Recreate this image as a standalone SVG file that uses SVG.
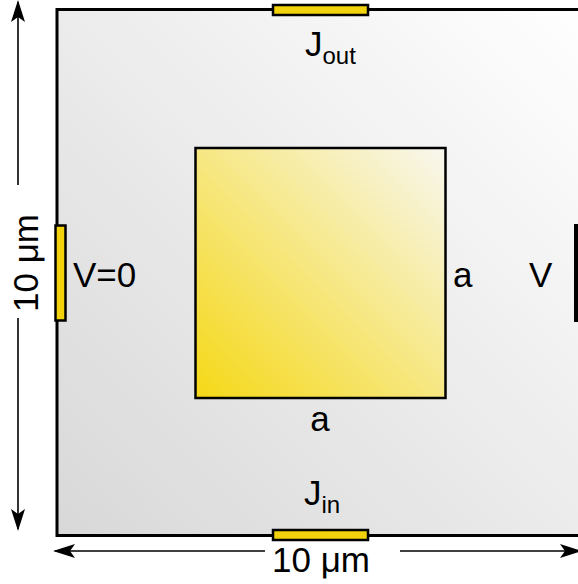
<svg xmlns="http://www.w3.org/2000/svg" width="578" height="584" viewBox="0 0 578 584">
<defs>
<linearGradient id="gOuter" x1="0" y1="1" x2="1" y2="0">
<stop offset="0" stop-color="#d8d8d8"/>
<stop offset="1" stop-color="#ffffff"/>
</linearGradient>
<linearGradient id="gInner" x1="0" y1="1" x2="1" y2="0">
<stop offset="0" stop-color="#f5d816"/>
<stop offset="1" stop-color="#f8f7f0"/>
</linearGradient>
<marker id="arr" viewBox="0 0 22 14" refX="20" refY="7" markerWidth="22" markerHeight="14" markerUnits="userSpaceOnUse" orient="auto">
<path d="M0,0 L22,7 L0,14 L5,7 Z" fill="#000"/>
</marker>
<style>
.lbl{font-family:"Liberation Sans",Arial,sans-serif;font-size:35px;fill:#000}
.sub{font-size:24px}
.contact{fill:#f2d20c;stroke:#000;stroke-width:2.5}
.dim{stroke:#000;stroke-width:1.6;fill:none}
</style>
</defs>
<g id="domain">
<rect x="57" y="9.5" width="530" height="526" fill="url(#gOuter)" stroke="#000" stroke-width="3"/>
</g>
<g id="inclusion">
<rect x="195.5" y="148" width="250" height="250" fill="url(#gInner)" stroke="#000" stroke-width="2.5"/>
</g>
<g id="contact-left">
<rect class="contact" x="55.5" y="225.5" width="10" height="95"/>
</g>
<g id="contact-right">
<rect x="574" y="224" width="6" height="98" fill="#000"/>
</g>
<g id="contact-top">
<rect class="contact" x="273" y="5" width="95" height="10"/>
</g>
<g id="contact-bottom">
<rect class="contact" x="273" y="530" width="95" height="10"/>
</g>
<g id="connectors">
<line class="dim" x1="18" y1="185" x2="18" y2="2" marker-end="url(#arr)"/>
<line class="dim" x1="18" y1="318" x2="18" y2="529" marker-end="url(#arr)"/>
<line class="dim" x1="265" y1="551" x2="55" y2="551" marker-end="url(#arr)"/>
<line class="dim" x1="400" y1="551" x2="580" y2="551" marker-end="url(#arr)"/>
</g>
<g id="labels">
<text class="lbl" x="38" y="263" text-anchor="middle" transform="rotate(-90 38 263)">10 μm</text>
<text class="lbl" x="321" y="572" text-anchor="middle">10 μm</text>
<text class="lbl" x="305" y="56">J<tspan class="sub" dy="8">out</tspan></text>
<text class="lbl" x="304" y="505">J<tspan class="sub" dy="8">in</tspan></text>
<text class="lbl" x="73" y="287">V=0</text>
<text class="lbl" x="453" y="287">a</text>
<text class="lbl" x="320" y="431" text-anchor="middle">a</text>
<text class="lbl" x="529" y="287">V</text>
</g>
</svg>
